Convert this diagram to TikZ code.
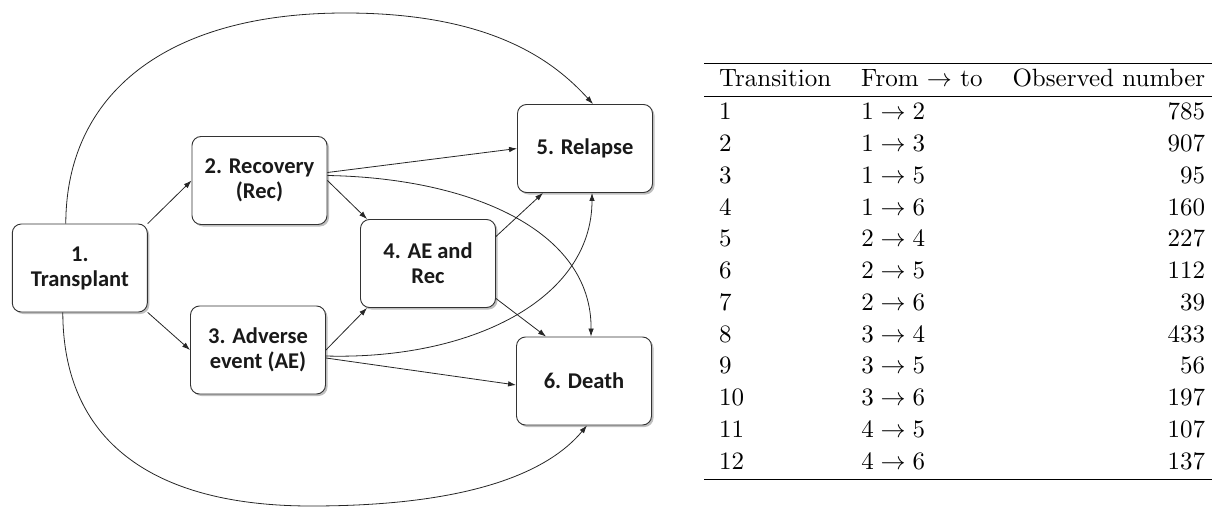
\documentclass[tikz,border=0pt]{standalone}
\usepackage{fontspec}
\usepackage{graphicx}
\newfontfamily\boxfont{Carlito}
\usetikzlibrary{arrows.meta,shadows}
\begin{document}
\begin{tikzpicture}[x=1pt,y=-1pt,
  state/.style={draw=black!80, line width=0.9pt, rounded corners=9pt, fill=white,
    minimum width=135pt, minimum height=88pt, align=center, inner sep=2pt,
    font=\boxfont\bfseries\fontsize{22.5}{25}\selectfont, text=black!90,
    drop shadow={shadow xshift=2pt, shadow yshift=-2pt, opacity=0.25, fill=black}},
  conn/.style={draw=black!85, line width=0.8pt, -{Latex[length=8pt,width=5.5pt]}},
]
\useasboundingbox (0,0) rectangle (1212,508);

\node[state] (b1) at (79.8,268) {1.\\Transplant};
\node[state] (b2) at (259.5,180.5) {2. Recovery\\(Rec)};
\node[state] (b3) at (258,350) {3. Adverse\\event (AE)};
\node[state] (b4) at (428,263.5) {4. AE and\\Rec};
\node[state] (b5) at (585,148.5) {5. Relapse};
\node[state] (b6) at (584,381) {6. Death};

\draw[conn] (b1.north east) -- (b2.west);
\draw[conn] (b1.south east) -- (b3.west);
\draw[conn] (b2.east) -- ([xshift=7pt]b4.north west);
\draw[conn] ([yshift=8pt]b2.east) -- (b5.west);
\draw[conn] ([yshift=5pt]b2.east) .. controls (470,178) and (592,230) .. ([xshift=7pt]b6.north);
\draw[conn] (b3.east) -- ([xshift=7pt]b4.south west);
\draw[conn] ([yshift=-6pt]b3.east) .. controls (470,360) and (592,300) .. ([xshift=7pt]b5.south);
\draw[conn] ([yshift=-8pt]b3.east) -- ([yshift=-4pt]b6.west);
\draw[conn] ([yshift=27pt]b4.east) -- ([xshift=-42pt]b5.south);
\draw[conn] ([yshift=-35pt]b4.east) -- ([xshift=30pt]b6.north west);
\draw[conn] ([xshift=-14pt]b1.north) .. controls (66,95) and (165,13) .. (345,13)
  .. controls (490,13) and (553,60) .. ([xshift=8pt]b5.north);
\draw[conn] ([xshift=-17pt]b1.south) .. controls (63,439) and (150,506) .. (311,506)
  .. controls (475,506) and (550,470) .. ([xshift=3pt]b6.south);

\node[anchor=north west, inner sep=0pt] (tbl) at (704,63) {\scalebox{2.5}{%
  \renewcommand\arraystretch{1.059}\setlength\arrayrulewidth{0.5pt}%
  \begin{tabular}{llr}
  \hline
  Transition & From $\rightarrow$ to & Observed number\\
  \hline
  1 & $1\rightarrow2$ & 785\\
  2 & $1\rightarrow3$ & 907\\
  3 & $1\rightarrow5$ & 95\\
  4 & $1\rightarrow6$ & 160\\
  5 & $2\rightarrow4$ & 227\\
  6 & $2\rightarrow5$ & 112\\
  7 & $2\rightarrow6$ & 39\\
  8 & $3\rightarrow4$ & 433\\
  9 & $3\rightarrow5$ & 56\\
  10 & $3\rightarrow6$ & 197\\
  11 & $4\rightarrow5$ & 107\\
  12 & $4\rightarrow6$ & 137\\
  \hline
  \end{tabular}}};
\end{tikzpicture}
\end{document}
